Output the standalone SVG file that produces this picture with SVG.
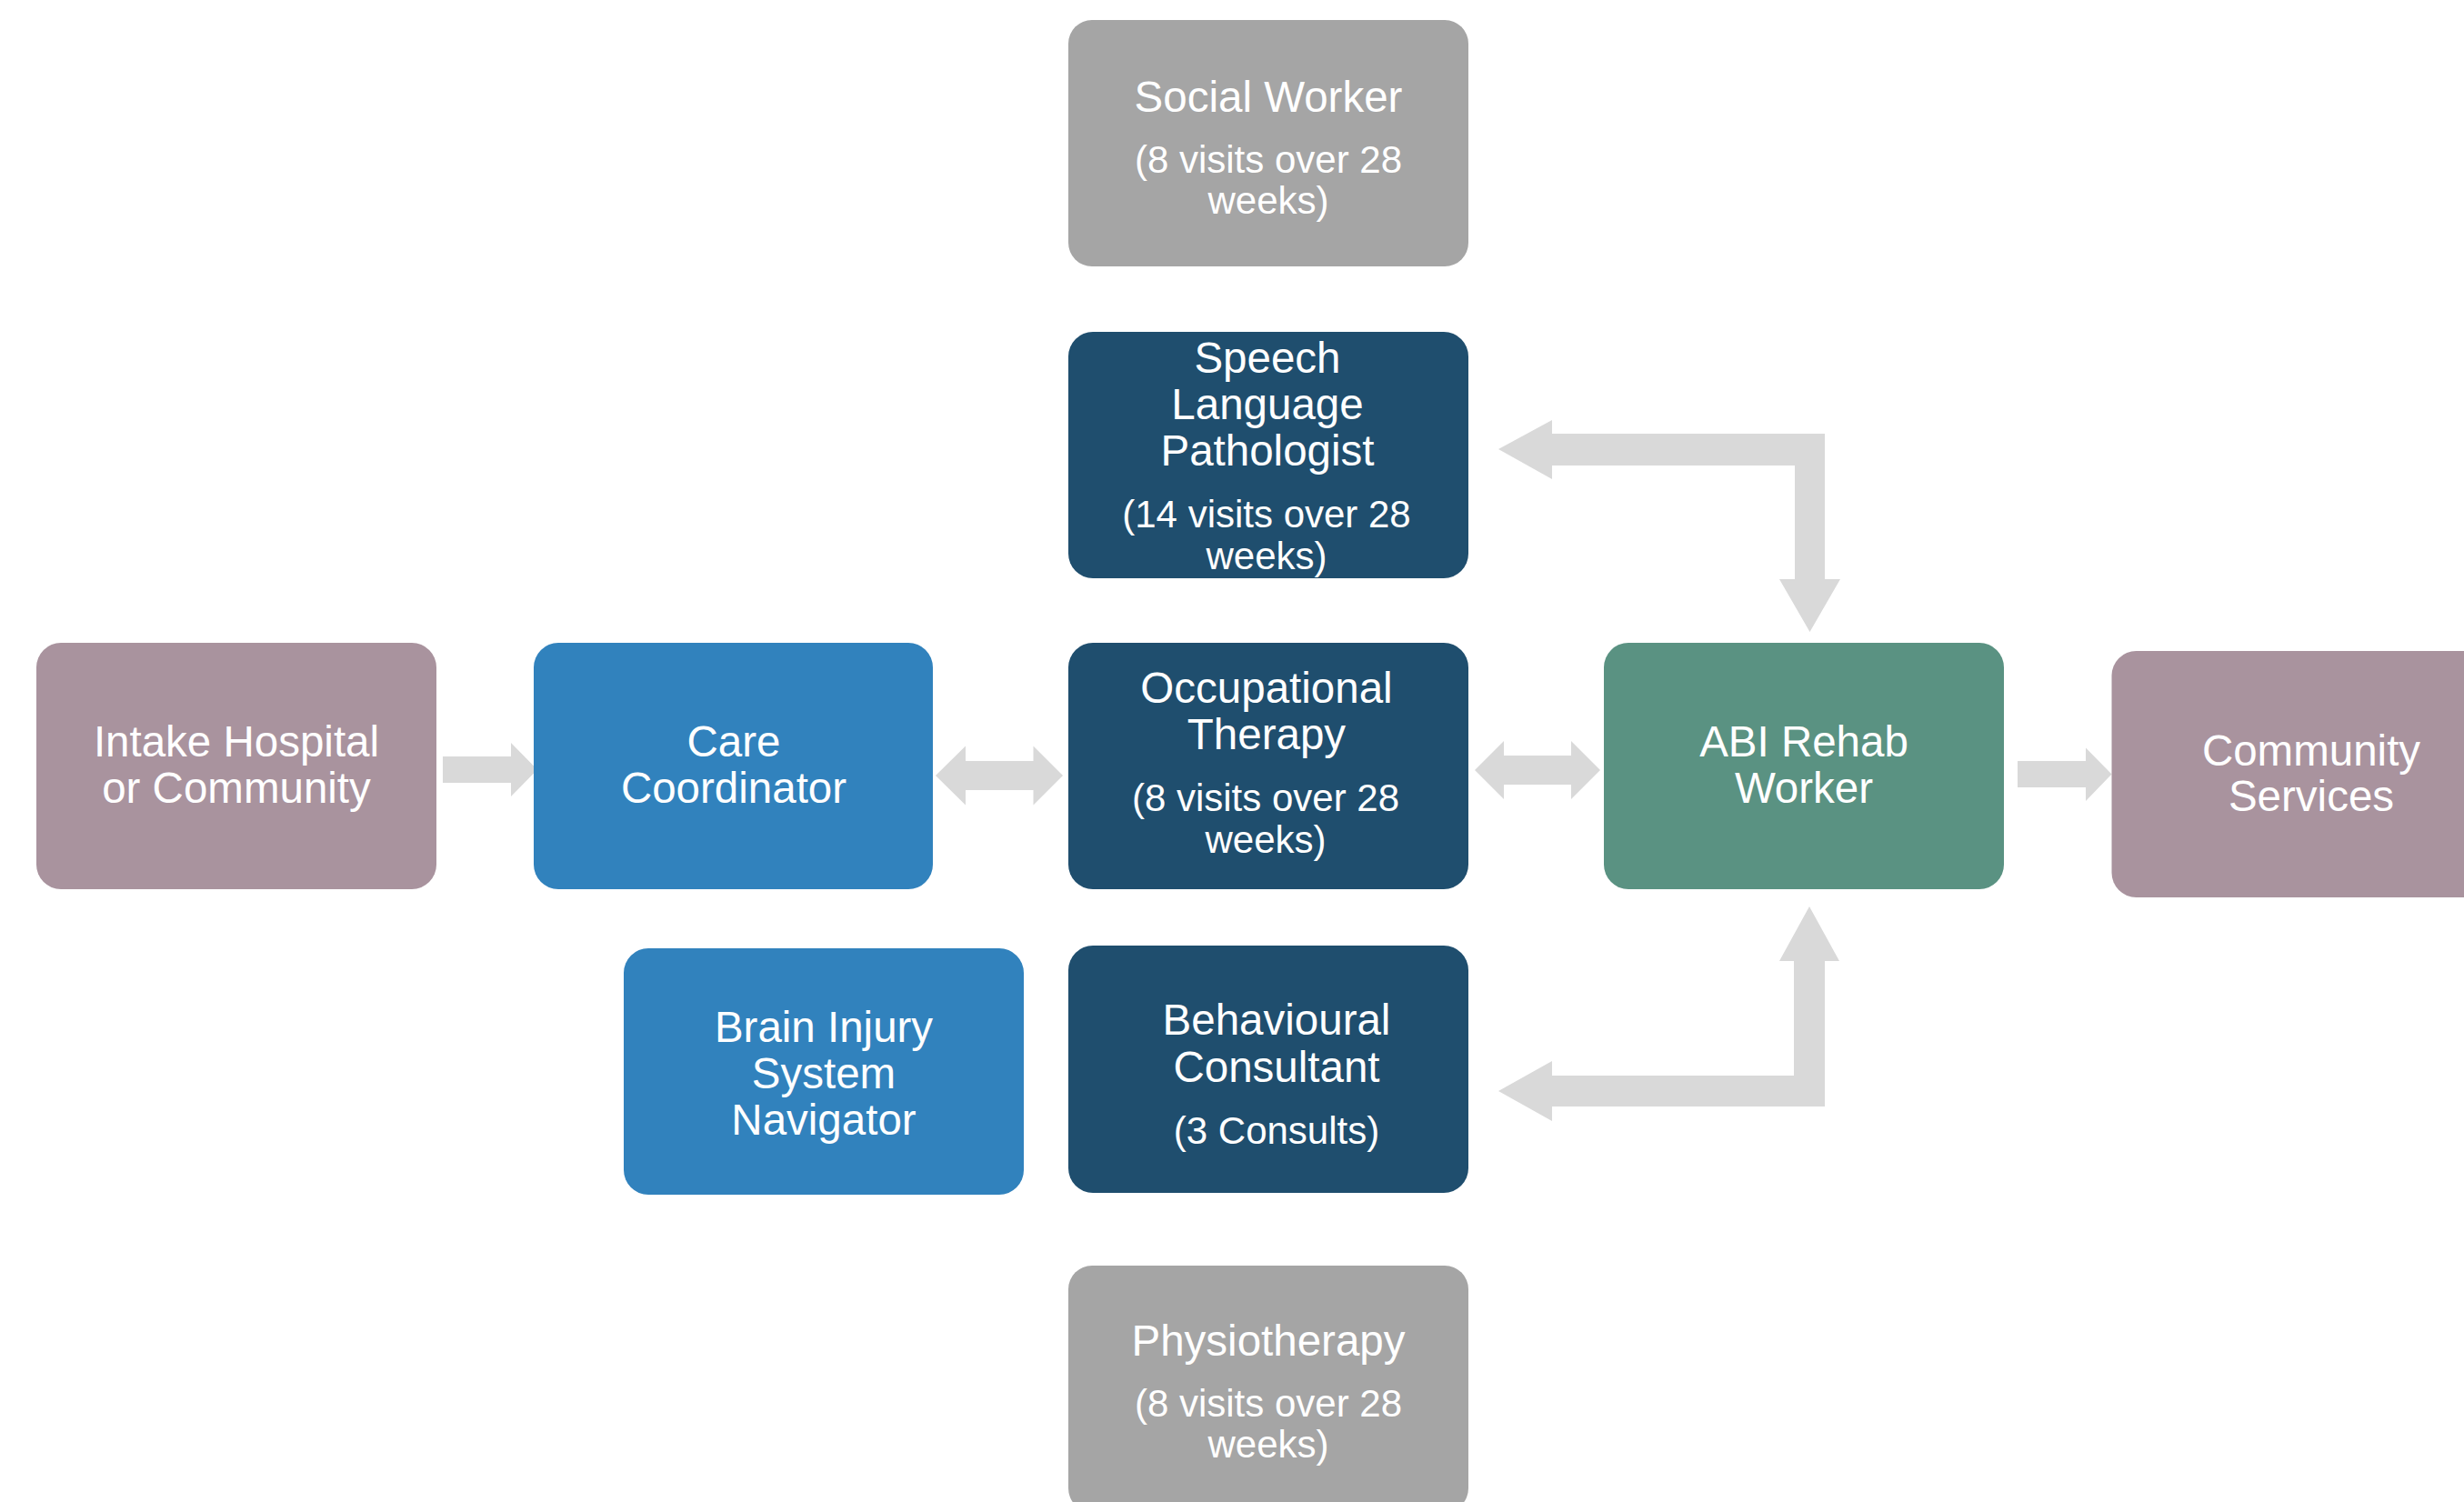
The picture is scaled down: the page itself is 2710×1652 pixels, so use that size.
<svg xmlns="http://www.w3.org/2000/svg" width="2710" height="1652" viewBox="0 0 2710 1652">
<style>
.box{stroke:none}
.gray{fill:#A5A5A5}
.navy{fill:#1F4E6E}
.blue{fill:#3182BD}
.mauve{fill:#A9939E}
.green{fill:#5A9282}
.t{font-family:"Liberation Sans",Arial,sans-serif;fill:#FFFFFF;text-anchor:middle}
.m{font-size:47.5px}
.s{font-size:42px}
.arrow{fill:#D9D9D9;stroke:none}
</style>
<rect width="2710" height="1652" fill="#FFFFFF"/>
<g id="connectors">
<polygon class="arrow" points="487,832 562,832 562,817 591,846.5 562,876 562,861 487,861"/>
<polygon class="arrow" points="1029,853 1062,820.5 1062,837 1136.5,837 1136.5,820.5 1169,853 1136.5,885.5 1136.5,869 1062,869 1062,885.5"/>
<polygon class="arrow" points="1622,847 1654,815 1654,831 1728,831 1728,815 1760,847 1728,879 1728,863 1654,863 1654,879"/>
<polygon class="arrow" points="2219,837 2294,837 2294,822.5 2322.5,851.5 2294,881 2294,866 2219,866"/>
<polygon class="arrow" points="1648,494 1707,462 1707,477 2007,477 2007,637 2024,637 1990.5,695 1957,637 1974,637 1974,512 1707,512 1707,527"/>
<polygon class="arrow" points="1990,997 2023,1057 2007,1057 2007,1217 1707,1217 1707,1233 1648,1200 1707,1167 1707,1183 1973,1183 1973,1057 1957,1057"/>
</g>
<g id="social-worker">
<rect class="box gray" x="1175" y="22" width="440" height="271" rx="26"/>
<text class="t m" x="1395" y="123">Social Worker</text>
<text class="t s" x="1395" y="190">(8 visits over 28</text>
<text class="t s" x="1395" y="235">weeks)</text>
</g>
<g id="speech-language-pathologist">
<rect class="box navy" x="1175" y="365" width="440" height="271" rx="27"/>
<text class="t m" x="1394" y="410">Speech</text>
<text class="t m" x="1394" y="461">Language</text>
<text class="t m" x="1394" y="512">Pathologist</text>
<text class="t s" x="1393" y="580">(14 visits over 28</text>
<text class="t s" x="1393" y="626">weeks)</text>
</g>
<g id="intake">
<rect class="box mauve" x="40" y="707" width="440" height="271" rx="27"/>
<text class="t m" x="260" y="832">Intake Hospital</text>
<text class="t m" x="260" y="883">or Community</text>
</g>
<g id="care-coordinator">
<rect class="box blue" x="587" y="707" width="439" height="271" rx="27"/>
<text class="t m" x="807" y="832">Care</text>
<text class="t m" x="807" y="883">Coordinator</text>
</g>
<g id="occupational-therapy">
<rect class="box navy" x="1175" y="707" width="440" height="271" rx="27"/>
<text class="t m" x="1393" y="773">Occupational</text>
<text class="t m" x="1393" y="824">Therapy</text>
<text class="t s" x="1392" y="892">(8 visits over 28</text>
<text class="t s" x="1392" y="938">weeks)</text>
</g>
<g id="abi-rehab-worker">
<rect class="box green" x="1764" y="707" width="440" height="271" rx="27"/>
<text class="t m" x="1984" y="832">ABI Rehab</text>
<text class="t m" x="1984" y="883">Worker</text>
</g>
<g id="community-services">
<rect class="box mauve" x="2322.5" y="716" width="440" height="271" rx="27"/>
<text class="t m" x="2542" y="842">Community</text>
<text class="t m" x="2542" y="892">Services</text>
</g>
<g id="brain-injury-navigator">
<rect class="box blue" x="686" y="1043" width="440" height="271" rx="27"/>
<text class="t m" x="906" y="1146">Brain Injury</text>
<text class="t m" x="906" y="1197">System</text>
<text class="t m" x="906" y="1248">Navigator</text>
</g>
<g id="behavioural-consultant">
<rect class="box navy" x="1175" y="1040" width="440" height="272" rx="27"/>
<text class="t m" x="1404" y="1138">Behavioural</text>
<text class="t m" x="1404" y="1190">Consultant</text>
<text class="t s" x="1404" y="1258">(3 Consults)</text>
</g>
<g id="physiotherapy">
<rect class="box gray" x="1175" y="1392" width="440" height="271" rx="26"/>
<text class="t m" x="1395" y="1491">Physiotherapy</text>
<text class="t s" x="1395" y="1558">(8 visits over 28</text>
<text class="t s" x="1395" y="1603">weeks)</text>
</g>
</svg>
